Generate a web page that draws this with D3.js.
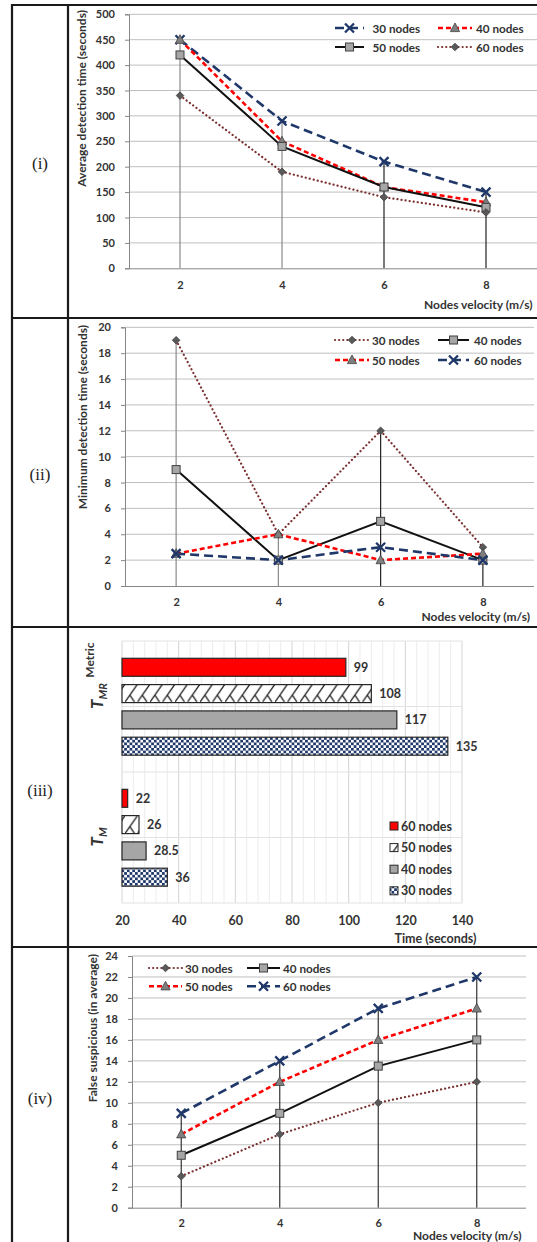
<!DOCTYPE html>
<html>
<head>
<meta charset="utf-8">
<script src="https://cdn.jsdelivr.net/npm/d3@7"></script>
<style>
  body { margin: 0; background: #fff; }
  svg { display: block; }
  text { font-family: Lato, "Liberation Sans", sans-serif; font-weight: bold; fill: #333; }
  .roman { font-family: "Liberation Serif", serif; font-weight: normal; fill: #222; }
</style>
</head>
<body>
<script>
// shared x categories
const velocities = [2, 4, 6, 8];

// (i) average detection time (seconds)
const avg30 = [450, 290, 210, 150];
const avg40 = [450, 250, 160, 130];
const avg50 = [420, 240, 160, 120];
const avg60 = [340, 190, 140, 110];

// (ii) minimum detection time (seconds)
const min30 = [19, 4, 12, 3];
const min40 = [9, 2, 5, 2];
const min50 = [2.5, 4, 2, 2.5];
const min60 = [2.5, 2, 3, 2];

// (iii) metric bars
const metrics = ["TMR", "TM"];
const barSeries = ["60 nodes", "50 nodes", "40 nodes", "30 nodes"];
const tmrValues = [99, 108, 117, 135];
const tmValues = [22, 26, 28.5, 36];

// (iv) false suspicious (in average)
const fs30 = [3, 7, 10, 12];
const fs40 = [5, 9, 13.5, 16];
const fs50 = [7, 12, 16, 19];
const fs60 = [9, 14, 19, 22];

const W = 537, H = 1242;
const svg = d3.select('body').append('svg').attr('width', W).attr('height', H);

const styles = {
  navy:   {color: '#1f3869', width: 2.6, dash: '9,5', marker: 'x'},
  red:    {color: '#ff0000', width: 2.6, dash: '5,3', marker: 'tri'},
  black:  {color: '#111', width: 2, dash: null, marker: 'sq'},
  maroon: {color: '#7b3030', width: 2.2, dash: '0.1,4', cap: 'round', marker: 'dia'}
};

function marker(g, type, x, y) {
  if (type === 'x') {
    g.append('path').attr('d', `M${x-4.5},${y-4.5}L${x+4.5},${y+4.5}M${x-4.5},${y+4.5}L${x+4.5},${y-4.5}`)
      .attr('stroke', '#1f3869').attr('stroke-width', 2.3).attr('fill', 'none');
  } else if (type === 'tri') {
    g.append('path').attr('d', `M${x},${y-5}L${x+4.6},${y+3.6}L${x-4.6},${y+3.6}Z`)
      .attr('fill', '#7f7f7f').attr('stroke', '#404040').attr('stroke-width', 0.8);
  } else if (type === 'sq') {
    g.append('rect').attr('x', x - 4).attr('y', y - 4).attr('width', 8).attr('height', 8)
      .attr('fill', '#a6a6a6').attr('stroke', '#404040').attr('stroke-width', 1);
  } else {
    g.append('path').attr('d', `M${x},${y-3.8}L${x+3.8},${y}L${x},${y+3.8}L${x-3.8},${y}Z`)
      .attr('fill', '#595959').attr('stroke', '#404040').attr('stroke-width', 0.8);
  }
}

function styledPath(sel, st) {
  sel.attr('fill', 'none').attr('stroke', st.color).attr('stroke-width', st.width)
    .attr('stroke-dasharray', st.dash).attr('stroke-linecap', st.cap || 'butt');
}

function linePanel(p) {
  const g = svg.append('g');
  const x = d3.scalePoint().domain(velocities).range([p.x0, p.x1]).padding(0.5);
  const y = d3.scaleLinear().domain([0, p.max]).range([p.yBot, p.yTop]);
  const ticks = d3.range(0, p.max + 0.001, p.step);

  g.selectAll('.grid').data(ticks.slice(1)).enter().append('line')
    .attr('x1', p.x0).attr('x2', p.x1).attr('y1', d => y(d)).attr('y2', d => y(d))
    .attr('stroke', '#bfbfbf').attr('stroke-width', 1);

  // drop lines from the highest point of each category
  velocities.forEach((v, i) => {
    const top = d3.max(p.series, s => s.values[i]);
    g.append('line').attr('x1', x(v)).attr('x2', x(v)).attr('y1', y(top)).attr('y2', y(0))
      .attr('stroke', p.dropColor(i)).attr('stroke-width', 1.2);
  });

  const ya = g.append('g').attr('transform', `translate(${p.x0},0)`)
    .call(d3.axisLeft(y).tickValues(ticks).tickSize(4).tickPadding(10));
  ya.selectAll('text').style('font-size', '11px');
  ya.selectAll('line').attr('stroke', '#868686');
  ya.select('.domain').attr('stroke', '#868686');

  const xa = g.append('g').attr('transform', `translate(0,${p.yBot})`)
    .call(d3.axisBottom(x).tickSize(0).tickPadding(p.xPad));
  xa.selectAll('text').style('font-size', '11px');
  xa.select('.domain').attr('d', `M${p.x0},0.5H${p.x1}`).attr('stroke', '#868686');

  const line = d3.line().x((d, i) => x(velocities[i])).y(d => y(d));
  p.series.forEach(s => {
    g.append('path').datum(s.values).attr('d', line).call(styledPath, styles[s.style]);
  });
  p.series.forEach(s => {
    s.values.forEach((d, i) => marker(g, styles[s.style].marker, x(velocities[i]), y(d)));
  });

  // legend
  p.series.forEach((s, k) => {
    const col = p.legend.cols[k % 2], ly = p.legend.rows[Math.floor(k / 2)];
    const st = styles[s.style];
    g.append('line').attr('x1', col[0]).attr('x2', col[1]).attr('y1', ly).attr('y2', ly).call(styledPath, st);
    marker(g, st.marker, (col[0] + col[1]) / 2, ly);
    g.append('text').attr('x', col[2]).attr('y', ly).attr('dominant-baseline', 'central')
      .style('font-size', '11.7px').text(s.name);
  });

  g.append('text').attr('x', p.xTitle[0]).attr('y', p.xTitle[1]).attr('text-anchor', 'end')
    .attr('dominant-baseline', 'central').style('font-size', '12px').text('Nodes velocity (m/s)');
  g.append('text').attr('transform', `translate(${p.yTitle[0]},${p.yTitle[1]}) rotate(-90)`)
    .attr('text-anchor', 'end').attr('dominant-baseline', 'central')
    .style('font-size', '12px').text(p.yLabel);
}

const grayThenBlack = i => i < 2 ? '#8a8a8a' : '#222';

linePanel({
  x0: 129, x1: 537, yTop: 14.3, yBot: 268.3, max: 500, step: 50, xPad: 13,
  dropColor: grayThenBlack,
  series: [
    {name: '30 nodes', values: avg30, style: 'navy'},
    {name: '40 nodes', values: avg40, style: 'red'},
    {name: '50 nodes', values: avg50, style: 'black'},
    {name: '60 nodes', values: avg60, style: 'maroon'}
  ],
  legend: {rows: [28, 47], cols: [[335, 364, 372.5], [438, 472, 476]]},
  xTitle: [532.5, 304], yTitle: [81, 10], yLabel: 'Average detection time (seconds)'
});

linePanel({
  x0: 125, x1: 534, yTop: 327.3, yBot: 586, max: 20, step: 2, xPad: 12,
  dropColor: grayThenBlack,
  series: [
    {name: '30 nodes', values: min30, style: 'maroon'},
    {name: '40 nodes', values: min40, style: 'black'},
    {name: '50 nodes', values: min50, style: 'red'},
    {name: '60 nodes', values: min60, style: 'navy'}
  ],
  legend: {rows: [340, 360], cols: [[335, 369, 372], [438, 469, 474]]},
  xTitle: [530, 616], yTitle: [82, 325], yLabel: 'Minimum detection time (seconds)'
});

linePanel({
  x0: 132, x1: 526, yTop: 956, yBot: 1207.7, max: 24, step: 2, xPad: 12,
  dropColor: () => '#333',
  series: [
    {name: '30 nodes', values: fs30, style: 'maroon'},
    {name: '40 nodes', values: fs40, style: 'black'},
    {name: '50 nodes', values: fs50, style: 'red'},
    {name: '60 nodes', values: fs60, style: 'navy'}
  ],
  legend: {rows: [968, 986.3], cols: [[149, 182, 185], [247, 280, 283]]},
  xTitle: [521.5, 1235], yTitle: [92.5, 954], yLabel: 'False suspicious (in average)'
});

// ---- (iii) horizontal bars ----
const defs = svg.append('defs');
const hatch = defs.append('pattern').attr('id', 'hatch').attr('patternUnits', 'userSpaceOnUse')
  .attr('width', 12.5).attr('height', 26.3).attr('y', 0.3);
hatch.append('rect').attr('width', 12.5).attr('height', 26.3).attr('fill', '#fff');
hatch.append('path').attr('d', 'M0,18L12.5,0M4.9,11L9.5,18M0,44.3L12.5,26.3M-7.6,11L-3,18')
  .attr('stroke', '#222').attr('stroke-width', 1.3).attr('fill', 'none');
const check = defs.append('pattern').attr('id', 'check').attr('patternUnits', 'userSpaceOnUse')
  .attr('width', 5.4).attr('height', 5.4);
check.append('rect').attr('width', 5.4).attr('height', 5.4).attr('fill', '#1f3869');
check.append('rect').attr('width', 2.7).attr('height', 2.7).attr('fill', '#fff');
check.append('rect').attr('x', 2.7).attr('y', 2.7).attr('width', 2.7).attr('height', 2.7).attr('fill', '#fff');

const barFill = {'60 nodes': '#ff0000', '50 nodes': 'url(#hatch)', '40 nodes': '#a6a6a6', '30 nodes': 'url(#check)'};

const g3 = svg.append('g');
const bx = d3.scaleLinear().domain([20, 140]).range([122, 462]);
const by = d3.scaleBand().domain(metrics).range([641, 903]);
const inner = d3.scaleBand().domain(barSeries).range([9, 122.5]).padding(0.316);

g3.selectAll('.minor').data(d3.range(20, 141, 4)).enter().append('line')
  .attr('x1', d => bx(d)).attr('x2', d => bx(d)).attr('y1', 641).attr('y2', 903)
  .attr('stroke', d => (d - 20) % 20 === 0 ? '#d4d4d4' : '#ececec').attr('stroke-width', 1);
g3.selectAll('.hgrid').data([0, 0.5, 1, 1.5, 2]).enter().append('line')
  .attr('x1', 122).attr('x2', 462)
  .attr('y1', d => 641 + d * by.bandwidth()).attr('y2', d => 641 + d * by.bandwidth())
  .attr('stroke', '#e2e2e2').attr('stroke-width', 1);

const barValues = {TMR: tmrValues, TM: tmValues};
metrics.forEach(m => {
  barSeries.forEach((s, i) => {
    const v = barValues[m][i];
    const yy = by(m) + inner(s);
    g3.append('rect').attr('x', bx(20)).attr('y', yy).attr('width', bx(v) - bx(20))
      .attr('height', inner.bandwidth()).attr('fill', barFill[s])
      .attr('stroke', '#262626').attr('stroke-width', 1.2);
    g3.append('text').attr('x', bx(v) + 8).attr('y', yy + inner.bandwidth() / 2)
      .attr('dominant-baseline', 'central').style('font-size', '12.5px').text(v);
  });
});

const bxa = g3.append('g').attr('transform', 'translate(0,903)')
  .call(d3.axisBottom(bx).tickValues(d3.range(20, 141, 20)).tickSize(0).tickPadding(13));
bxa.selectAll('text').style('font-size', '12.5px');
bxa.select('.domain').remove();

g3.append('text').attr('x', 476.5).attr('y', 938).attr('text-anchor', 'end')
  .attr('dominant-baseline', 'central').style('font-size', '12.5px').text('Time (seconds)');
g3.append('text').attr('transform', 'translate(89,660) rotate(-90)').attr('text-anchor', 'middle')
  .attr('dominant-baseline', 'central').style('font-size', '12px').text('Metric');

const catLabelY = {TMR: 696, TM: 837};
metrics.forEach(m => {
  const t = g3.append('text').attr('transform', `translate(102.5,${catLabelY[m]}) rotate(-90)`)
    .attr('text-anchor', 'middle').style('font-style', 'italic');
  t.append('tspan').style('font-size', '17px').text('T');
  t.append('tspan').attr('dy', 4).style('font-size', '11px').text(m.slice(1));
});

barSeries.forEach((s, i) => {
  const ly = 826 + i * 21.6;
  g3.append('rect').attr('x', 390).attr('y', ly - 4).attr('width', 8).attr('height', 8)
    .attr('fill', barFill[s]).attr('stroke', '#262626').attr('stroke-width', 1);
  g3.append('text').attr('x', 401).attr('y', ly).attr('dominant-baseline', 'central')
    .style('font-size', '12.5px').text(s);
});

// ---- table frame and row labels ----
const frame = svg.append('g').attr('stroke', '#1a1a1a').attr('stroke-width', 2.2);
[5, 318, 627, 947].forEach(yy => frame.append('line').attr('x1', 11).attr('x2', W).attr('y1', yy).attr('y2', yy));
[12, 68].forEach(xx => frame.append('line').attr('x1', xx).attr('x2', xx).attr('y1', 4).attr('y2', H));

const rowLabels = ['(i)', '(ii)', '(iii)', '(iv)'];
const rowLabelY = [163, 474, 790, 1098];
rowLabels.forEach((r, i) => {
  svg.append('text').attr('class', 'roman').attr('x', 40).attr('y', rowLabelY[i])
    .attr('text-anchor', 'middle').attr('dominant-baseline', 'central')
    .style('font-size', '17px').text(r);
});
</script>
</body>
</html>
